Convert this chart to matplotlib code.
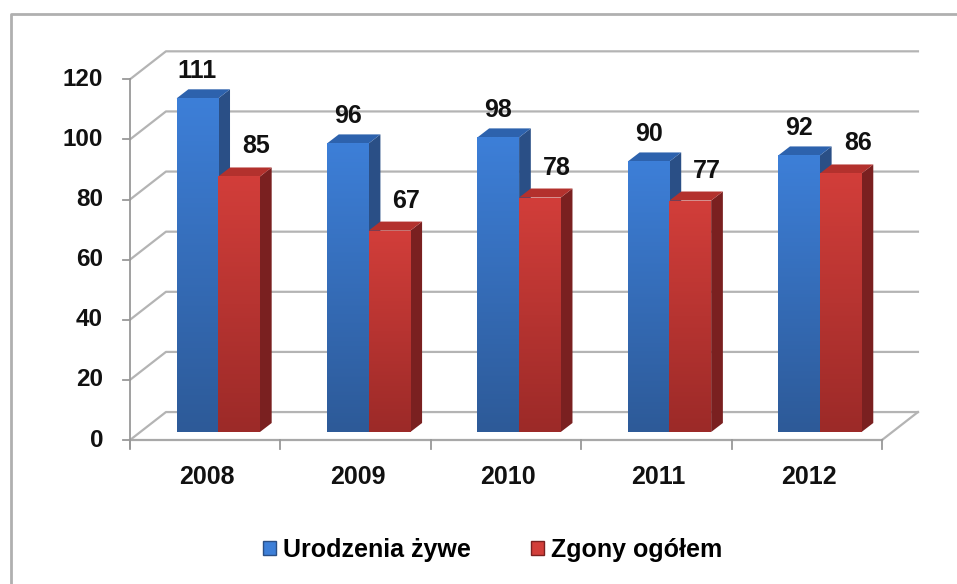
import matplotlib
matplotlib.use("Agg")
import matplotlib.pyplot as plt
import numpy as np
from matplotlib.colors import LinearSegmentedColormap
from matplotlib.patches import Polygon, Patch
from matplotlib.lines import Line2D

# Data
years = ["2008", "2009", "2010", "2011", "2012"]
births = [111, 96, 98, 90, 92]      # Urodzenia żywe
deaths = [85, 67, 78, 77, 86]       # Zgony ogółem
series_names = ["Urodzenia żywe", "Zgony ogółem"]
y_ticks = [0, 20, 40, 60, 80, 100, 120]

plt.rcParams["font.family"] = ["Liberation Sans", "DejaVu Sans"]

# fake 3D geometry (data units)
WALL_DX, WALL_DY = 0.239, 9.3
BAR_OX, BAR_OY = 0.087, 2.66
BAR_W = 0.277
BAR_DX, BAR_DY = 0.078, 3.0

styles = {
    "blue": dict(top="#3d7fd8", bottom="#2d5a98", side="#2a4f86", cap="#2d62ad"),
    "red": dict(top="#d23e3a", bottom="#9c2a28", side="#7a2020", cap="#b3312d"),
}
grid_color = "#b4b4b4"

fig = plt.figure(figsize=(9.57, 5.84), dpi=100)
ax = fig.add_axes([0, 0, 1, 1])
ax.set_xlim(-1.3644, 4.9987)
ax.set_ylim(-47.9, 146.37)
ax.axis("off")

# frame of the chart area
fig.add_artist(Line2D([0.0115, 0.0115, 1.0], [0.0, 0.976, 0.976],
                      transform=fig.transFigure, color="#b0b0b0", lw=2))

n = len(years)
x_left, x_right = -0.5, n - 0.5

# back wall + side wall grid
for v in y_ticks:
    ax.plot([x_left, x_left + WALL_DX, x_right + WALL_DX],
            [v, v + WALL_DY, v + WALL_DY], color=grid_color, lw=1.6, zorder=1)
    ax.plot([x_left - 0.047, x_left], [v, v], color="#999999", lw=1.3, zorder=1)
# floor right edge
ax.plot([x_right, x_right + WALL_DX], [0, WALL_DY], color=grid_color, lw=1.6, zorder=1)
# front axis lines
ax.plot([x_left, x_right], [0, 0], color="#a8a8a8", lw=1.6, zorder=1)
ax.plot([x_left, x_left], [-2.5, y_ticks[-1]], color="#999999", lw=1.3, zorder=1)
for k in range(n + 1):
    ax.plot([x_left + k, x_left + k], [0, -3], color="#999999", lw=1.3, zorder=1)

for v in y_ticks:
    ax.text(-0.6795, v, str(v), ha="right", va="center", fontsize=17.5,
            fontweight="bold", color="#111111")
for i, yr in enumerate(years):
    ax.text(i + 0.012, -12.4, yr, ha="center", va="center", fontsize=18,
            fontweight="bold", color="#111111")


def draw_bars(x0s, values, st, zbase):
    cmap = LinearSegmentedColormap.from_list("g", [st["bottom"], st["top"]])
    grad = np.linspace(0, 1, 128).reshape(-1, 1)
    bars = ax.bar(x0s, values, width=BAR_W, bottom=BAR_OY, align="edge",
                  color=st["top"], linewidth=0, zorder=zbase)
    for b, x0, v in zip(bars, x0s, values):
        x1 = x0 + BAR_W
        top = BAR_OY + v
        im = ax.imshow(grad, cmap=cmap, origin="lower", aspect="auto",
                       extent=[x0, x1, BAR_OY, top], zorder=zbase + 0.1)
        im.set_clip_path(b)
        ax.add_patch(Polygon([[x1, BAR_OY], [x1 + BAR_DX, BAR_OY + BAR_DY],
                              [x1 + BAR_DX, top + BAR_DY], [x1, top]],
                             closed=True, fc=st["side"], ec="none", zorder=zbase))
        ax.add_patch(Polygon([[x0, top], [x1, top], [x1 + BAR_DX, top + BAR_DY],
                              [x0 + BAR_DX, top + BAR_DY]],
                             closed=True, fc=st["cap"], ec="none", zorder=zbase))
    ax.set_xlim(-1.3644, 4.9987)
    ax.set_ylim(-47.9, 146.37)


pos = np.arange(n)
blue_x0 = pos + BAR_OX - BAR_W
red_x0 = pos + BAR_OX

draw_bars(blue_x0, births, styles["blue"], 3)
draw_bars(red_x0, deaths, styles["red"], 4)

# value labels
for i in range(n):
    ax.annotate(str(births[i]), (blue_x0[i] + BAR_W / 2, births[i] + BAR_OY + BAR_DY),
                xytext=(0, 6), textcoords="offset pixels", ha="center", va="bottom",
                fontsize=18, fontweight="bold", color="#111111", zorder=6)
    ax.annotate(str(deaths[i]), (red_x0[i] + BAR_W / 2, deaths[i] + BAR_OY + BAR_DY),
                xytext=(17, 9), textcoords="offset pixels", ha="center", va="bottom",
                fontsize=18, fontweight="bold", color="#111111", zorder=6)

handles = [Patch(facecolor=styles["blue"]["top"], edgecolor=styles["blue"]["side"]),
           Patch(facecolor=styles["red"]["top"], edgecolor=styles["red"]["side"])]
fig.legend(handles, series_names, loc="center", bbox_to_anchor=(0.515, 0.058), ncol=2,
           frameon=False, handlelength=0.5, handleheight=0.5, handletextpad=0.3,
           columnspacing=2.4, prop=dict(size=18, weight="bold"))

fig.savefig("out.png", dpi=100)
